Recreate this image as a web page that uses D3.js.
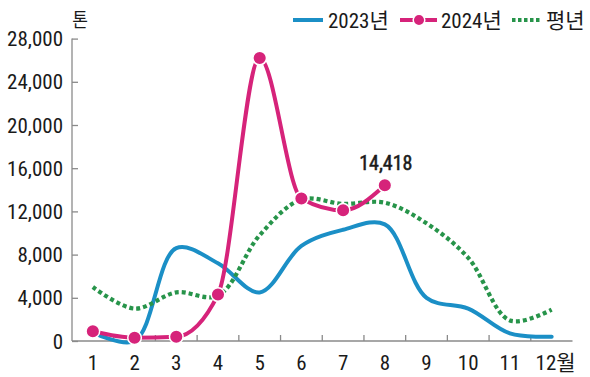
<!DOCTYPE html>
<html><head><meta charset="utf-8">
<script src="https://cdn.jsdelivr.net/npm/d3@7"></script>
<style>
html,body{margin:0;padding:0;background:#fff;}
text{font-family:"Liberation Sans Narrow","Roboto Condensed","Noto Sans CJK KR",sans-serif;fill:#1a1a1a;}
.kr{font-family:"Noto Sans CJK KR",sans-serif;}
</style></head>
<body>
<svg id="c" width="590" height="377"></svg>
<script>
const months = [1,2,3,4,5,6,7,8,9,10,11,12];
const monthLabels = ["1","2","3","4","5","6","7","8","9","10","11","12월"];
const series2023 = [800, 0, 8600, 7200, 4500, 8800, 10300, 10800, 4000, 3000, 700, 400];
const series2024 = [900, 300, 400, 4300, 26200, 13200, 12100, 14418];
const seriesAvg = [5000, 3000, 4500, 4200, 9800, 13100, 12700, 12800, 10900, 7700, 1900, 2900];
const yTicks = [0, 4000, 8000, 12000, 16000, 20000, 24000, 28000];
const legendNames = ["2023년", "2024년", "평년"];
const annotation = "14,418";

const colBlue = "#1b8fc6", colPink = "#d6237a", colGreen = "#27944a";
const svg = d3.select("#c");
const x = d3.scaleBand().domain(months).range([72, 572.5]).padding(0);
const cx = m => x(m) + x.bandwidth()/2;
const y = d3.scaleLinear().domain([0, 28000]).range([341, 38.6]);

// y axis
const ya = svg.append("g").attr("transform","translate(72,0)")
  .call(d3.axisRight(y).tickValues(yTicks).tickSize(6).tickFormat(""));
ya.select(".domain").attr("stroke","#8a8a8a").attr("stroke-width",1.3).attr("d","M0,"+y(28000)+"V"+y(0));
ya.selectAll(".tick line").attr("stroke","#8a8a8a").attr("stroke-width",1.3);
svg.append("g").selectAll("text").data(yTicks).join("text")
  .attr("x",63).attr("y",d=>y(d)).attr("dy","0.36em")
  .attr("text-anchor","end").attr("font-size",21)
  .text(d=>d3.format(",")(d));

// x axis
const xa = svg.append("g").attr("transform","translate(0,341)")
  .call(d3.axisTop(x).tickSize(0).tickFormat(""));
xa.select(".domain").attr("stroke","#8a8a8a").attr("stroke-width",1.3).attr("d","M72,0H572.5");
xa.selectAll(".tick").remove();
const bounds = months.slice(1).map(m=>x(m));
xa.selectAll("line.b").data(bounds).join("line").attr("class","b")
  .attr("x1",d=>d).attr("x2",d=>d).attr("y1",0).attr("y2",-6)
  .attr("stroke","#8a8a8a").attr("stroke-width",1.3);
svg.append("g").selectAll("text").data(months).join("text")
  .attr("x",(d,i)=>cx(d) + (i===11?4:0)).attr("y",370)
  .attr("text-anchor","middle").attr("font-size",21)
  .text((d,i)=>monthLabels[i]);

// unit label
svg.append("text").attr("class","kr").attr("x",80).attr("y",27)
  .attr("text-anchor","middle").attr("font-size",19)
  .attr("transform","translate(80,0) scale(0.9,1) translate(-80,0)")
  .text("톤");

const lineCR = d3.line().x((d,i)=>cx(months[i])).y(d=>y(d)).curve(d3.curveCatmullRom.alpha(0.5));
const lineMono = d3.line().x((d,i)=>cx(months[i])).y(d=>y(d)).curve(d3.curveMonotoneX);

svg.append("path").attr("d",lineCR(series2023)).attr("fill","none")
  .attr("stroke",colBlue).attr("stroke-width",4).attr("stroke-linecap","round");
svg.append("path").attr("d",lineCR(seriesAvg)).attr("fill","none")
  .attr("stroke",colGreen).attr("stroke-width",4.2).attr("stroke-dasharray","4,3");
svg.append("path").attr("d",lineMono(series2024)).attr("fill","none")
  .attr("stroke",colPink).attr("stroke-width",4).attr("stroke-linecap","round");
svg.append("g").selectAll("circle").data(series2024).join("circle")
  .attr("cx",(d,i)=>cx(months[i])).attr("cy",d=>y(d)).attr("r",6.8)
  .attr("fill",colPink).attr("stroke","#fff").attr("stroke-width",1.5);

svg.append("text").attr("x",cx(8)+1).attr("y",170).attr("text-anchor","middle")
  .attr("font-size",20).attr("stroke","#1a1a1a").attr("stroke-width",0.5).text(annotation);

// legend
const lg = svg.append("g");
lg.append("line").attr("x1",293).attr("x2",323).attr("y1",20).attr("y2",20)
  .attr("stroke",colBlue).attr("stroke-width",4);
lg.append("text").attr("x",328).attr("y",28).attr("font-size",21).text(legendNames[0]);
lg.append("line").attr("x1",400).attr("x2",437).attr("y1",20).attr("y2",20)
  .attr("stroke",colPink).attr("stroke-width",4);
lg.append("circle").attr("cx",419).attr("cy",20).attr("r",5.8).attr("fill",colPink).attr("stroke","#fff").attr("stroke-width",1.5);
lg.append("text").attr("x",441).attr("y",28).attr("font-size",21).text(legendNames[1]);
lg.append("line").attr("x1",512).attr("x2",541).attr("y1",20).attr("y2",20)
  .attr("stroke",colGreen).attr("stroke-width",4).attr("stroke-dasharray","3.5,2.5");
lg.append("text").attr("x",546).attr("y",28).attr("font-size",21).text(legendNames[2]);
</script>
</body></html>
